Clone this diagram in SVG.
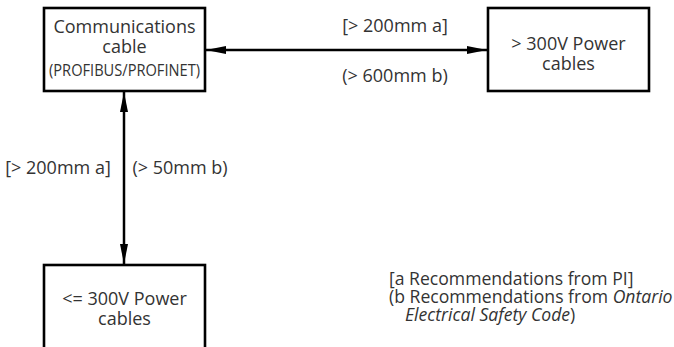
<svg xmlns="http://www.w3.org/2000/svg" width="674" height="347" viewBox="0 0 674 347">
<style>
.box{fill:#fff;stroke:#000;stroke-width:2.6}
.t{font-family:"Open Sans","Noto Sans",sans-serif;font-size:18px;fill:#333;text-anchor:middle}
.s{font-size:17px}
.l{font-family:"Open Sans","Noto Sans",sans-serif;font-size:17.6px;fill:#333}
.c{stroke:#000;stroke-width:2.5;fill:none}
</style>
<defs>
<marker id="ah" viewBox="0 0 20 8" refX="20" refY="4" markerWidth="20" markerHeight="8" markerUnits="userSpaceOnUse" orient="auto-start-reverse">
<path d="M0,0 L20,4 L0,8 Z" fill="#000"/>
</marker>
</defs>
<g id="connectors">
<line class="c" x1="206" y1="50" x2="487" y2="50" marker-start="url(#ah)" marker-end="url(#ah)"/>
<line class="c" x1="124" y1="92" x2="124" y2="264" marker-start="url(#ah)" marker-end="url(#ah)"/>
<text class="t" x="395" y="32">[&gt; 200mm a]</text>
<text class="t" x="395" y="82">(&gt; 600mm b)</text>
<text class="t" x="58" y="174">[&gt; 200mm a]</text>
<text class="t" x="180" y="174">(&gt; 50mm b)</text>
</g>
<g id="comm">
<rect class="box" x="44" y="8" width="161" height="83"/>
<text class="t" x="124.5" y="33">Communications</text>
<text class="t" x="124.5" y="53">cable</text>
<text class="t s" x="124.5" y="76" textLength="151" lengthAdjust="spacingAndGlyphs">(PROFIBUS/PROFINET)</text>
</g>
<g id="hv">
<rect class="box" x="488" y="8" width="161" height="83"/>
<text class="t" x="568.5" y="49.5">&gt; 300V Power</text>
<text class="t" x="568.5" y="70">cables</text>
</g>
<g id="lv">
<rect class="box" x="44" y="265" width="161" height="100"/>
<text class="t" x="124.5" y="305">&lt;= 300V Power</text>
<text class="t" x="124.5" y="325">cables</text>
</g>
<g id="legend">
<text class="l" x="389" y="285">[a Recommendations from PI]</text>
<text class="l" x="389" y="303">(b Recommendations from <tspan font-style="italic">Ontario</tspan></text>
<text class="l" x="405" y="321"><tspan font-style="italic">Electrical Safety Code</tspan>)</text>
</g>
</svg>
